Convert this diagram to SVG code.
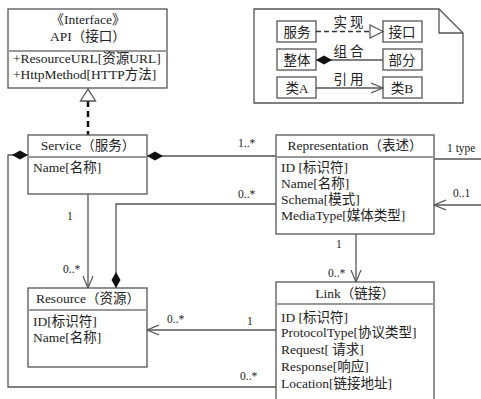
<svg xmlns="http://www.w3.org/2000/svg" width="481" height="399" viewBox="0 0 481 399">
<style>
.box{fill:#fff;stroke:#555;stroke-width:1.3}
.div{stroke:#999;stroke-width:2}
.ln{fill:none;stroke:#555;stroke-width:1.3}
text{font-family:"Liberation Serif","Noto Sans CJK SC",serif;fill:#222}
.t{font-size:13.5px}
.c{text-anchor:middle}
.lb{font-size:11.5px}
.sp{letter-spacing:3px}
</style>
<defs>
<marker id="dia" markerUnits="userSpaceOnUse" markerWidth="16" markerHeight="10" refX="0" refY="5" orient="auto" viewBox="0 0 16 10"><path d="M0,5 L8,0.5 L16,5 L8,9.5 Z" fill="#111"/></marker>
<marker id="open" markerUnits="userSpaceOnUse" markerWidth="13" markerHeight="12" refX="12" refY="6" orient="auto" viewBox="0 0 13 12"><path d="M0,1 L12,6 L0,11" fill="none" stroke="#555" stroke-width="1.2"/></marker>
</defs>

<g id="connectors">
<line x1="88" y1="101" x2="88" y2="135" stroke="#111" stroke-width="2.5" stroke-dasharray="6,4"/>
<polygon points="88,89 80.5,101 95.5,101" fill="#fff" stroke="#555" stroke-width="1.3"/>
<path class="ln" d="M28,155 L8,155 L8,387 L276,387" marker-start="url(#dia)"/>
<path class="ln" d="M147,156 L276,156" marker-start="url(#dia)"/>
<path class="ln" d="M116,288 L116,204 L276,204" marker-start="url(#dia)"/>
<path class="ln" d="M88,194 L88,288" marker-end="url(#open)"/>
<path class="ln" d="M356,234 L356,282" marker-end="url(#open)"/>
<path class="ln" d="M276,330 L147,330" marker-end="url(#open)"/>
<path class="ln" d="M481,205 L434,205" marker-end="url(#open)"/>
<path class="ln" d="M434,159 L481,159"/>
<text class="lb" x="238" y="147">1..*</text>
<text class="lb" x="447" y="152">1 type</text>
<text class="lb" x="238" y="198">0..*</text>
<text class="lb" x="453" y="197">0..1</text>
<text class="lb" x="336" y="248">1</text>
<text class="lb" x="67" y="220">1</text>
<text class="lb" x="63" y="273">0..*</text>
<text class="lb" x="328" y="277">0..*</text>
<text class="lb" x="167" y="323">0..*</text>
<text class="lb" x="247" y="325">1</text>
<text class="lb" x="240" y="380">0..*</text>
</g>

<g id="api">
<rect class="box" x="8" y="9" width="159" height="79"/>
<line class="div" x1="8" y1="51" x2="167" y2="51"/>
<text class="t c" x="88" y="24">《Interface》</text>
<text class="t c" x="88" y="41">API（接口）</text>
<text class="t" x="13" y="63">+ResourceURL[资源URL]</text>
<text class="t" x="13" y="79">+HttpMethod[HTTP方法]</text>
</g>

<g id="service">
<rect class="box" x="28" y="135" width="119" height="59"/>
<line class="div" x1="28" y1="157" x2="147" y2="157"/>
<text class="t c" x="88" y="150">Service（服务）</text>
<text class="t" x="33" y="172">Name[名称]</text>
</g>

<g id="representation">
<rect class="box" x="276" y="135" width="158" height="99"/>
<line class="div" x1="276" y1="157" x2="434" y2="157"/>
<text class="t c" x="355" y="150">Representation（表述）</text>
<text class="t" x="281" y="172">ID [标识符]</text>
<text class="t" x="281" y="188">Name[名称]</text>
<text class="t" x="281" y="204">Schema[模式]</text>
<text class="t" x="281" y="220">MediaType[媒体类型]</text>
</g>

<g id="resource">
<rect class="box" x="28" y="288" width="119" height="79"/>
<line class="div" x1="28" y1="310" x2="147" y2="310"/>
<text class="t c" x="88" y="303">Resource（资源）</text>
<text class="t" x="33" y="326">ID[标识符]</text>
<text class="t" x="33" y="342">Name[名称]</text>
</g>

<g id="link">
<rect class="box" x="276" y="282" width="158" height="130"/>
<line class="div" x1="276" y1="304" x2="434" y2="304"/>
<text class="t c" x="355" y="298">Link（链接）</text>
<text class="t" x="281" y="322">ID [标识符]</text>
<text class="t" x="281" y="337">ProtocolType[协议类型]</text>
<text class="t" x="281" y="354">Request[ 请求]</text>
<text class="t" x="281" y="371">Response[响应]</text>
<text class="t" x="281" y="388">Location[链接地址]</text>
</g>

<g id="legend">
<path d="M254,9 L439,9 L463,33 L463,103 L254,103 Z" fill="#fff" stroke="#555" stroke-width="1.3"/>
<path d="M439,9 L439,33 L463,33" fill="none" stroke="#555" stroke-width="1.3"/>
<rect class="box" x="277" y="21" width="39" height="21"/>
<rect class="box" x="383" y="21" width="39" height="21"/>
<line x1="316" y1="31.5" x2="370" y2="31.5" stroke="#333" stroke-width="1.3" stroke-dasharray="5,3"/>
<polygon points="383,31.5 370,25 370,38" fill="#fff" stroke="#555" stroke-width="1.2"/>
<text class="t c" x="297" y="37">服务</text>
<text class="t c" x="402" y="37">接口</text>
<text class="t c sp" x="350" y="27">实现</text>
<rect class="box" x="277" y="49" width="39" height="21"/>
<rect class="box" x="383" y="49" width="39" height="21"/>
<path class="ln" d="M316,60 L383,60" marker-start="url(#dia)"/>
<text class="t c" x="297" y="65">整体</text>
<text class="t c" x="402" y="65">部分</text>
<text class="t c sp" x="350" y="56">组合</text>
<rect class="box" x="277" y="77" width="39" height="21"/>
<rect class="box" x="383" y="77" width="39" height="21"/>
<path class="ln" d="M316,88 L383,88" marker-end="url(#open)"/>
<text class="t c" x="297" y="93">类A</text>
<text class="t c" x="402" y="93">类B</text>
<text class="t c sp" x="350" y="84">引用</text>
</g>
</svg>
